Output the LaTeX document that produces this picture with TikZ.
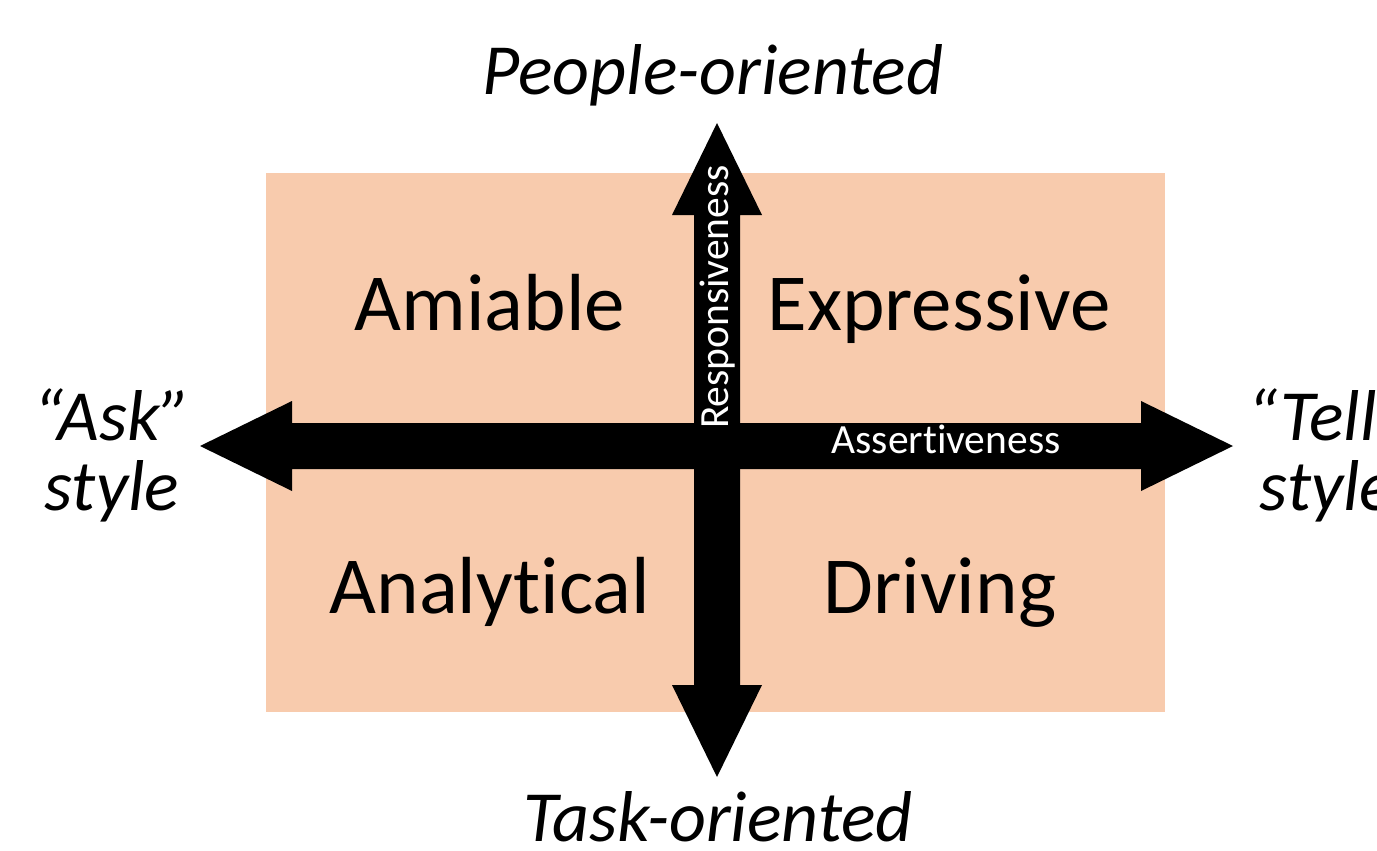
\documentclass[tikz,border=0pt]{standalone}
\usepackage{fontspec}
\setmainfont{Carlito}[Ligatures=CommonOff]
\definecolor{peach}{HTML}{F8CBAD}
\newcommand{\dblarrow}[4]{
\begin{scope}[shift={#1},rotate=#3]
\fill[#4] (-#2,0) -- (-#2+92,45) -- (-#2+92,23) -- (#2-92,23) -- (#2-92,45) -- (#2,0) -- (#2-92,-45) -- (#2-92,-23) -- (-#2+92,-23) -- (-#2+92,-45) -- cycle;
\end{scope}
}
\tikzset{
quadrant/.style={anchor=base,inner sep=0pt,font=\fontsize{81}{97}\selectfont},
pole/.style={anchor=base,inner sep=0pt,font=\itshape\fontsize{72}{86}\selectfont},
axisname/.style={anchor=base,inner sep=0pt,text=white,font=\fontsize{41.5}{50}\selectfont}
}

\begin{document}
\begin{tikzpicture}[x=1pt,y=-1pt]
\useasboundingbox (0,0) rectangle (1377,851);
\clip (0,0) rectangle (1377,851);
\fill[peach] (266,173) rectangle (1165,712);
\dblarrow{(716.5,446)}{516.5}{0}{black};
\dblarrow{(717,450)}{327}{90}{black};
\node[axisname,rotate=90] (resp) at (728,297) {Responsiveness};
\node[axisname] (assert) at (946,453) {Assertiveness};
\node[quadrant] (amiable) at (490,330) {Amiable};
\node[quadrant] (expressive) at (939,330) {Expressive};
\node[quadrant] (analytical) at (490,613) {Analytical};
\node[quadrant] (driving) at (940,613) {Driving};
\node[pole] (people) at (713,95) {People-oriented};
\node[pole] (task) at (718,841) {Task-oriented};
\node[pole] (ask) at (112,440) {“Ask”};
\node[pole] (askstyle) at (112,510) {style};
\node[pole] (tell) at (1327,440) {“Tell”};
\node[pole] (tellstyle) at (1327,510) {style};
\end{tikzpicture}
\end{document}
